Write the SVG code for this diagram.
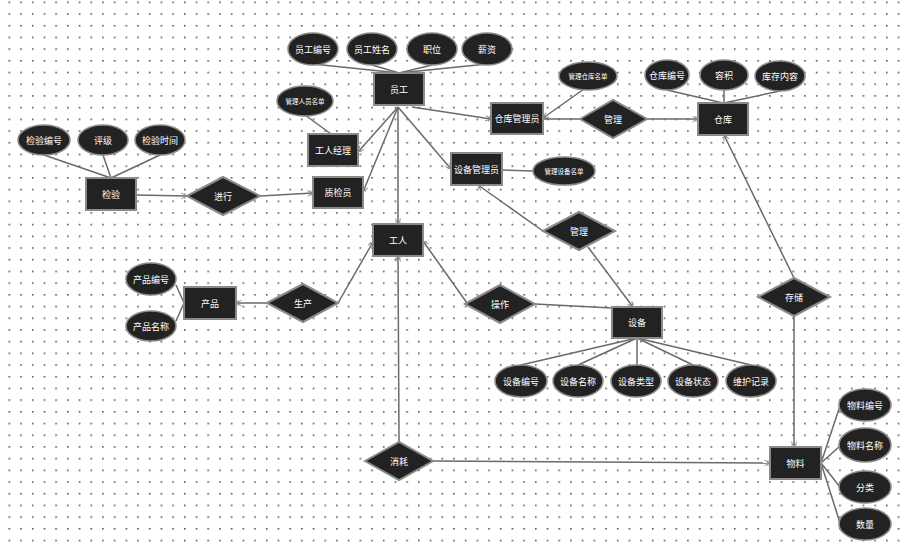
<svg xmlns="http://www.w3.org/2000/svg" width="909" height="545" viewBox="0 0 909 545">
<defs>
<pattern id="grid" x="8.5" y="1.5" width="11.7" height="11.7" patternUnits="userSpaceOnUse">
<rect x="0" y="0" width="1.6" height="1.6" fill="#555"/>
</pattern>
<marker id="m" viewBox="0 0 10 10" refX="9" refY="5" markerWidth="7" markerHeight="7" orient="auto-start-reverse" markerUnits="userSpaceOnUse">
<path d="M1,1 L9,5 L1,9 M6,1 L6,9" fill="none" stroke="#888" stroke-width="1.3"/>
</marker>
<style>
.ent rect{fill:#222;stroke:#8a8a8a;stroke-width:2}
.rel polygon{fill:#222;stroke:#8a8a8a;stroke-width:2}
.att ellipse{fill:#222;stroke:#8a8a8a;stroke-width:1.6}
text{font-family:"Noto Sans CJK SC","Noto Sans",sans-serif;fill:#fff;font-size:9px;text-anchor:middle;dominant-baseline:central}
.s{font-size:6.5px}
#edges line,#edges polyline{stroke:#6a6a6a;stroke-width:1.5;fill:none}
.a{marker-end:url(#m)}
</style>
</defs>
<rect width="909" height="545" fill="#fff"/>
<rect width="909" height="545" fill="url(#grid)"/>

<g id="edges">
<line x1="313" y1="64" x2="399" y2="73"/>
<line x1="372" y1="65" x2="399" y2="73"/>
<line x1="432" y1="65" x2="399" y2="73"/>
<line x1="487" y1="64" x2="399" y2="73"/>
<line x1="305" y1="115" x2="331" y2="134"/>
<line class="a" x1="412" y1="107" x2="491" y2="119"/>
<line class="a" x1="398" y1="107" x2="358" y2="152"/>
<line class="a" x1="398" y1="107" x2="363" y2="192"/>
<line class="a" x1="398" y1="107" x2="398" y2="224"/>
<line class="a" x1="398" y1="107" x2="451" y2="169"/>
<line class="a" x1="584" y1="89" x2="543" y2="118"/>
<line x1="543" y1="119" x2="580" y2="119"/>
<line class="a" x1="647" y1="119" x2="698" y2="119"/>
<line x1="667" y1="90" x2="723" y2="103"/>
<line x1="724" y1="90" x2="724" y2="103"/>
<line x1="780" y1="91" x2="724" y2="103"/>
<line class="a" x1="794" y1="278" x2="724" y2="135"/>
<line class="a" x1="794" y1="316" x2="794" y2="447"/>
<line x1="44" y1="155" x2="111" y2="178"/>
<line x1="103" y1="155" x2="111" y2="178"/>
<line x1="160" y1="155" x2="111" y2="178"/>
<line class="a" x1="136" y1="195" x2="187" y2="196"/>
<line class="a" x1="260" y1="196" x2="313" y2="193"/>
<line x1="502" y1="170" x2="533" y2="171"/>
<line class="a" x1="543" y1="231" x2="478" y2="185"/>
<line class="a" x1="588" y1="247" x2="633" y2="307"/>
<line class="a" x1="338" y1="303" x2="373" y2="242"/>
<line class="a" x1="267" y1="303" x2="236" y2="303"/>
<line x1="176" y1="285" x2="184" y2="303"/>
<line x1="176" y1="321" x2="184" y2="303"/>
<line class="a" x1="467" y1="303" x2="423" y2="241"/>
<line x1="535" y1="304" x2="612" y2="308"/>
<line class="a" x1="399" y1="442" x2="398" y2="256"/>
<line class="a" x1="433" y1="461" x2="770" y2="463"/>
<line x1="637" y1="338" x2="521" y2="365"/>
<line x1="637" y1="338" x2="578" y2="365"/>
<line x1="637" y1="338" x2="637" y2="365"/>
<line x1="637" y1="338" x2="693" y2="365"/>
<line x1="637" y1="338" x2="751" y2="365"/>
<line x1="821" y1="463" x2="840" y2="406"/>
<line x1="821" y1="463" x2="840" y2="446"/>
<line x1="821" y1="463" x2="840" y2="487"/>
<line x1="821" y1="463" x2="840" y2="523"/>
</g>

<g id="员工" class="ent"><rect x="374" y="73" width="50" height="32"/><text x="399" y="89">员工</text></g>
<g id="工人经理" class="ent"><rect x="308" y="134" width="50" height="32"/><text x="333" y="150">工人经理</text></g>
<g id="质检员" class="ent"><rect x="313" y="177" width="50" height="31"/><text x="338" y="192.5">质检员</text></g>
<g id="仓库管理员" class="ent"><rect x="491" y="103" width="52" height="31"/><text x="517" y="118.5">仓库管理员</text></g>
<g id="仓库" class="ent"><rect x="698" y="103" width="50" height="32"/><text x="723" y="119">仓库</text></g>
<g id="设备管理员" class="ent"><rect x="451" y="153" width="51" height="32"/><text x="476.5" y="169">设备管理员</text></g>
<g id="检验" class="ent"><rect x="86" y="178" width="50" height="32"/><text x="111" y="194">检验</text></g>
<g id="工人" class="ent"><rect x="373" y="224" width="50" height="32"/><text x="398" y="240">工人</text></g>
<g id="产品" class="ent"><rect x="184" y="287" width="52" height="32"/><text x="210" y="303">产品</text></g>
<g id="设备" class="ent"><rect x="612" y="307" width="50" height="31"/><text x="637" y="322.5">设备</text></g>
<g id="物料" class="ent"><rect x="770" y="447" width="51" height="32"/><text x="795.5" y="463">物料</text></g>

<g id="rel-管理1" class="rel"><polygon points="580,119 613,100 647,119 613,138"/><text x="613" y="119">管理</text></g>
<g id="rel-进行" class="rel"><polygon points="187,196 223,177 260,196 223,215"/><text x="223" y="196">进行</text></g>
<g id="rel-管理2" class="rel"><polygon points="543,231 579,212 615,231 579,250"/><text x="579" y="231">管理</text></g>
<g id="rel-生产" class="rel"><polygon points="267,303 303,284 338,303 303,322"/><text x="303" y="303">生产</text></g>
<g id="rel-操作" class="rel"><polygon points="465,304 500,285 535,304 500,323"/><text x="500" y="304">操作</text></g>
<g id="rel-存储" class="rel"><polygon points="758,297 794,278 830,297 794,316"/><text x="794" y="297">存储</text></g>
<g id="rel-消耗" class="rel"><polygon points="365,461 399,442 433,461 399,480"/><text x="399" y="461">消耗</text></g>

<g id="att-员工编号" class="att"><ellipse cx="313" cy="49" rx="25" ry="16"/><text x="313" y="49">员工编号</text></g>
<g id="att-员工姓名" class="att"><ellipse cx="372" cy="49" rx="25" ry="16"/><text x="372" y="49">员工姓名</text></g>
<g id="att-职位" class="att"><ellipse cx="432" cy="49" rx="25" ry="16"/><text x="432" y="49">职位</text></g>
<g id="att-薪资" class="att"><ellipse cx="487" cy="49" rx="25" ry="16"/><text x="487" y="49">薪资</text></g>
<g id="att-管理人员名单" class="att"><ellipse cx="305" cy="101" rx="28" ry="15"/><text class="s" x="305" y="101">管理人员名单</text></g>
<g id="att-管理仓库名单" class="att"><ellipse cx="588" cy="76" rx="29" ry="14"/><text class="s" x="588" y="76">管理仓库名单</text></g>
<g id="att-仓库编号" class="att"><ellipse cx="667" cy="75" rx="22" ry="15"/><text x="667" y="75">仓库编号</text></g>
<g id="att-容积" class="att"><ellipse cx="724" cy="75" rx="24" ry="15"/><text x="724" y="75">容积</text></g>
<g id="att-库存内容" class="att"><ellipse cx="780" cy="76" rx="25" ry="15"/><text x="780" y="76">库存内容</text></g>
<g id="att-检验编号" class="att"><ellipse cx="44" cy="140" rx="26" ry="15"/><text x="44" y="140">检验编号</text></g>
<g id="att-评级" class="att"><ellipse cx="103" cy="140" rx="25" ry="15"/><text x="103" y="140">评级</text></g>
<g id="att-检验时间" class="att"><ellipse cx="160" cy="140" rx="25" ry="15"/><text x="160" y="140">检验时间</text></g>
<g id="att-管理设备名单" class="att"><ellipse cx="564" cy="171" rx="31" ry="14"/><text class="s" x="564" y="171">管理设备名单</text></g>
<g id="att-产品编号" class="att"><ellipse cx="151" cy="279" rx="25" ry="16"/><text x="151" y="279">产品编号</text></g>
<g id="att-产品名称" class="att"><ellipse cx="151" cy="326" rx="25" ry="15"/><text x="151" y="326">产品名称</text></g>
<g id="att-设备编号" class="att"><ellipse cx="521" cy="381" rx="26" ry="16"/><text x="521" y="381">设备编号</text></g>
<g id="att-设备名称" class="att"><ellipse cx="578" cy="381" rx="25" ry="16"/><text x="578" y="381">设备名称</text></g>
<g id="att-设备类型" class="att"><ellipse cx="636" cy="381" rx="25" ry="16"/><text x="636" y="381">设备类型</text></g>
<g id="att-设备状态" class="att"><ellipse cx="693" cy="381" rx="25" ry="16"/><text x="693" y="381">设备状态</text></g>
<g id="att-维护记录" class="att"><ellipse cx="751" cy="381" rx="25" ry="16"/><text x="751" y="381">维护记录</text></g>
<g id="att-物料编号" class="att"><ellipse cx="865" cy="405" rx="26" ry="16"/><text x="865" y="405">物料编号</text></g>
<g id="att-物料名称" class="att"><ellipse cx="865" cy="445" rx="26" ry="17"/><text x="865" y="445">物料名称</text></g>
<g id="att-分类" class="att"><ellipse cx="865" cy="487" rx="26" ry="16"/><text x="865" y="487">分类</text></g>
<g id="att-数量" class="att"><ellipse cx="865" cy="524" rx="26" ry="16"/><text x="865" y="524">数量</text></g>
</svg>
